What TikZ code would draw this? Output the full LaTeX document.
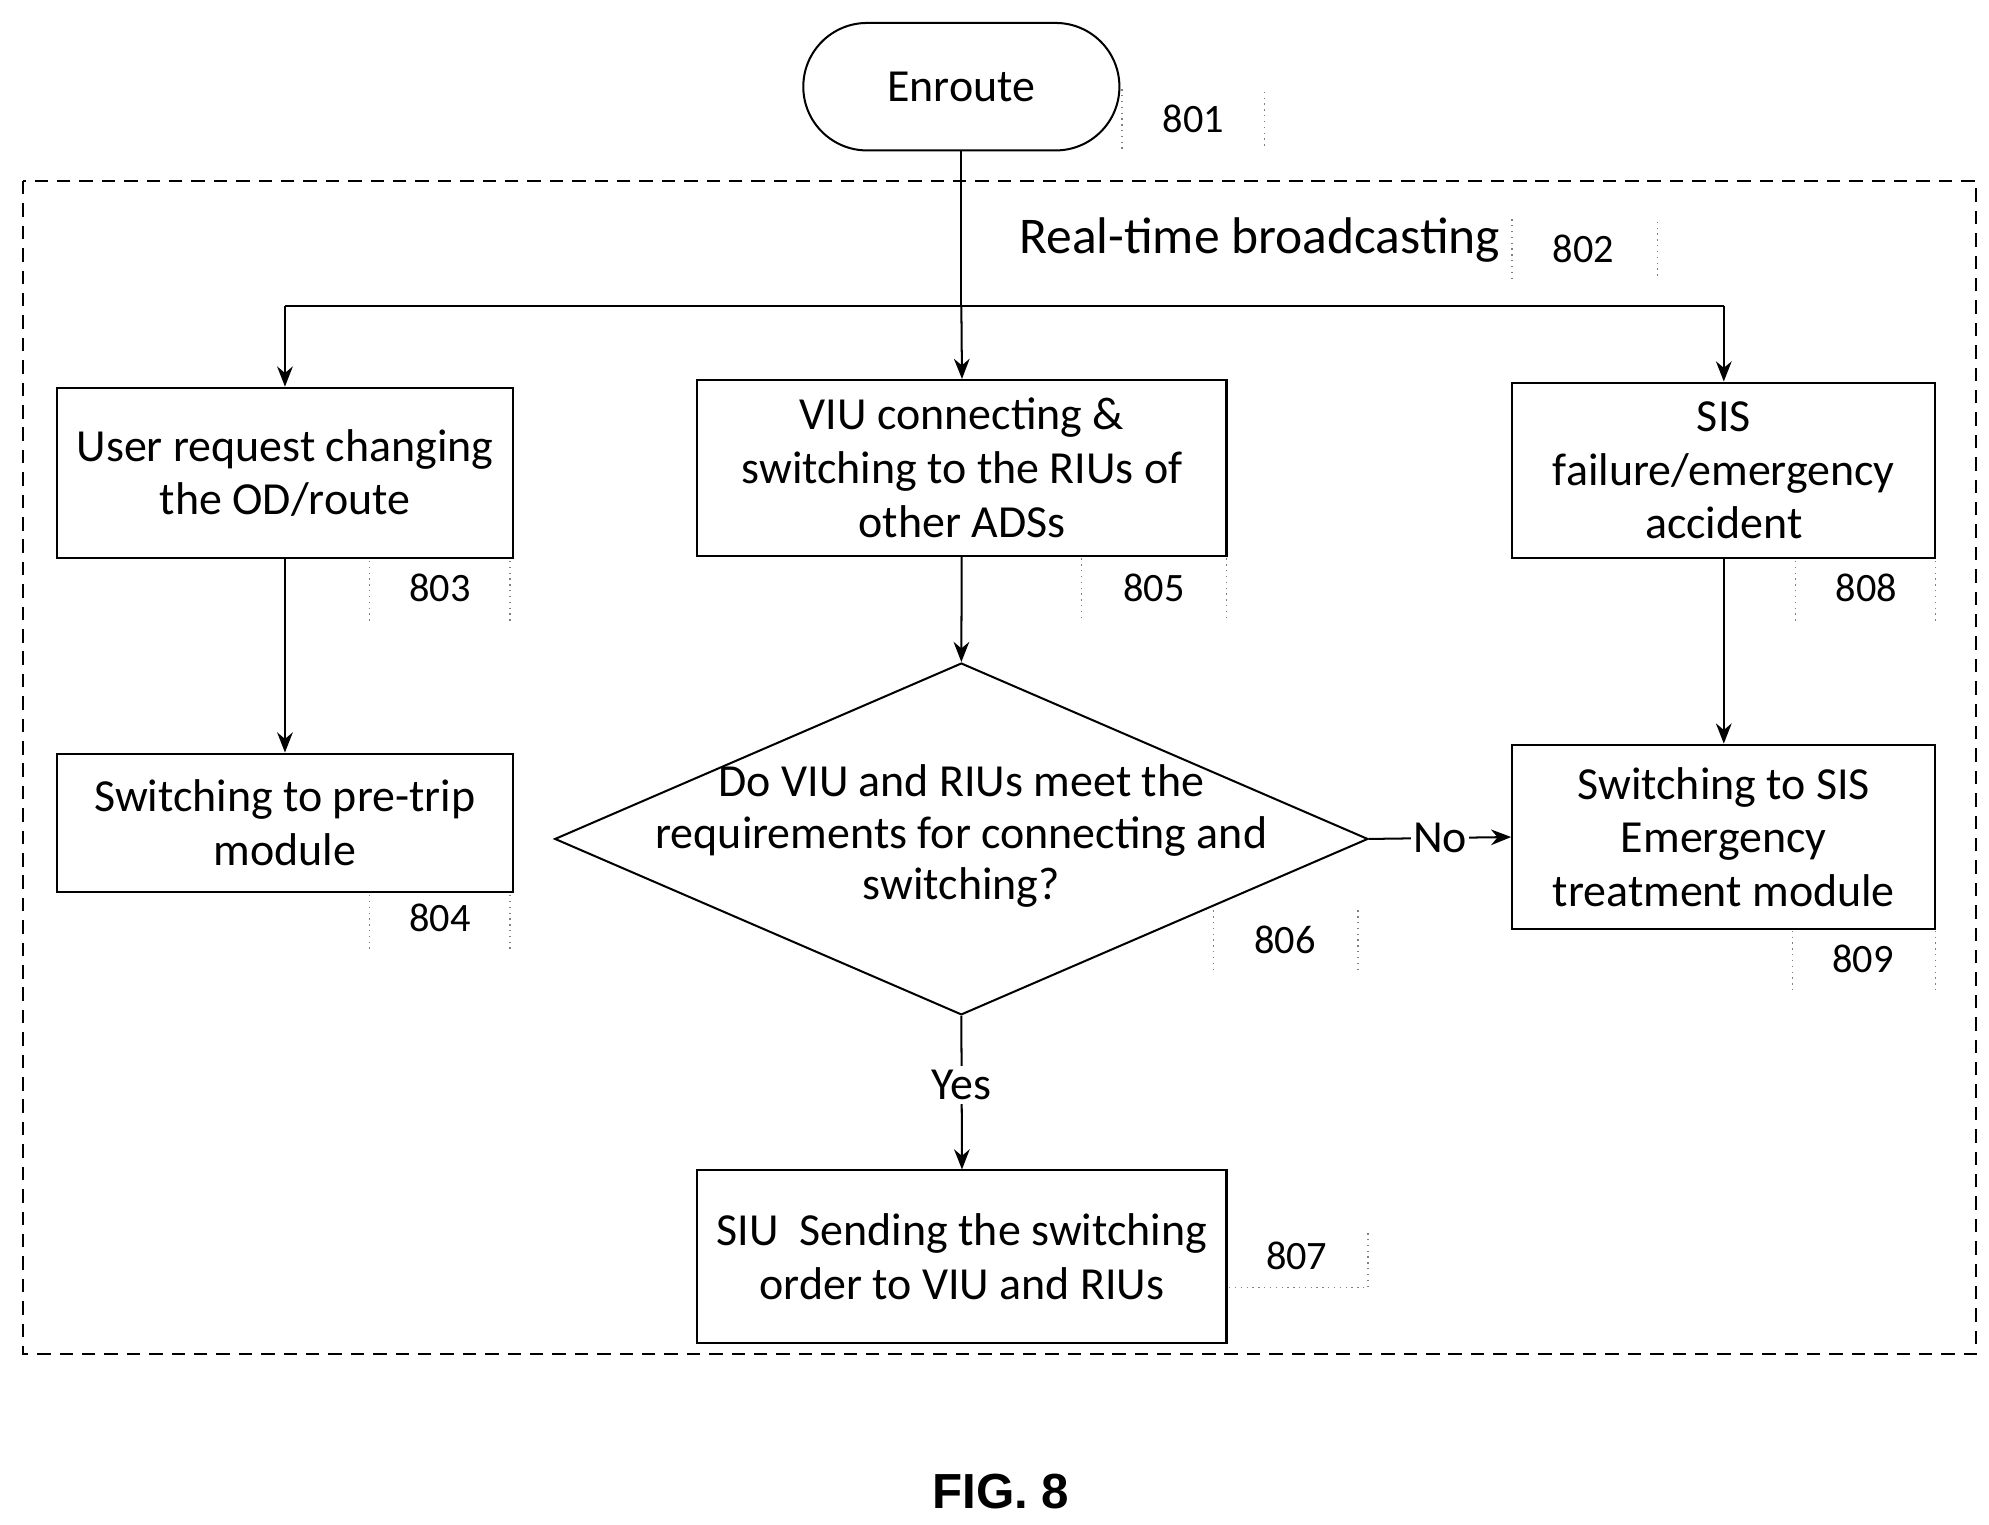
\documentclass[tikz,border=0pt]{standalone}
\usepackage{fontspec}
\setmainfont{Carlito}
\newfontfamily\arialf{Liberation Sans}
\usetikzlibrary{shapes.geometric,arrows.meta}
\begin{document}
\begin{tikzpicture}[x=0.02cm,y=-0.02cm,
  txt/.style={font=\fontsize{20.5}{24}\selectfont},
  box/.style={draw,line width=0.9pt,align=center,txt,inner sep=0pt},
  arr/.style={line width=0.9pt,-{Stealth[length=9pt,width=7pt]}},
  num/.style={font=\fontsize{18}{20}\selectfont},
  brk/.style={dotted,line width=0.6pt,gray}]
\useasboundingbox (0,0) rectangle (1560,1196);
\node[draw,line width=0.9pt,rounded corners=1cm,minimum width=4.96cm,minimum height=2cm,txt] (en) at (754,68) {Enroute};
\draw[dashed,line width=0.7pt,dash pattern=on 6pt off 4pt] (18,142) rectangle (1550,1062);
\node[font=\fontsize{23}{27}\selectfont] (rt) at (988,188) {Real-time broadcasting};
\node[box,minimum width=7.14cm,minimum height=2.68cm] (b803) at (223.5,371) {User request changing\\the OD/route};
\node[box,minimum width=8.3cm,minimum height=2.76cm] (b805) at (754.5,367) {VIU connecting \&\\switching to the RIUs of\\other ADSs};
\node[box,minimum width=6.64cm,minimum height=2.76cm] (b808) at (1352,369) {SIS\\failure/emergency\\accident};
\node[box,minimum width=7.14cm,minimum height=2.18cm] (b804) at (223.5,645.5) {Switching to pre-trip\\module};
\node[draw,line width=0.9pt,diamond,aspect=2.31,minimum width=12.76cm,minimum height=5.52cm,inner sep=0pt] (d806) at (754,658) {};
\node[align=center,txt,font=\fontsize{20.5}{23}\selectfont] at (754,656) {Do VIU and RIUs meet the\\requirements for connecting and\\switching?};
\node[box,minimum width=6.64cm,minimum height=2.9cm] (b809) at (1352,656.5) {Switching to SIS\\Emergency\\treatment module};
\node[box,minimum width=8.3cm,minimum height=2.7cm] (b807) at (754.5,985.5) {SIU\ \ Sending the switching\\order to VIU and RIUs};
\coordinate (j1) at (754,240);
\coordinate (jl) at (223.5,240);
\coordinate (jr) at (1352,240);
\draw[line width=0.9pt] (en.south) -- (j1);
\draw[line width=0.9pt] (jl) -- (jr);
\draw[arr] (j1) -- (b805.north);
\draw[arr] (jl) -- (b803.north);
\draw[arr] (jr) -- (b808.north);
\draw[arr] (b803) -- (b804);
\draw[arr] (b805) -- (d806.north);
\draw[arr] (b808) -- (b809);
\draw[arr] (d806.east) -- node[fill=white,inner sep=1pt,txt]{No} (b809.west);
\draw[arr] (d806.south) -- node[fill=white,inner sep=2pt,txt,pos=0.45]{Yes} (b807.north);
% reference numbers
\node[num] (n801) at (936,93) {801};
\draw[brk] (880,70) -- (880,118) (992,72) -- (992,116);
\node[num] (n802) at (1242,195) {802};
\draw[brk] (1186,172) -- (1186,218) (1300,174) -- (1300,218);
\node[num] (n803) at (345,461) {803};
\draw[brk] (290,440) -- (290,488) (400,440) -- (400,488);
\node[num] (n805) at (905,461) {805};
\draw[brk] (848,438) -- (848,488) (962,438) -- (962,488);
\node[num] (n808) at (1464,461) {808};
\draw[brk] (1408,440) -- (1408,488) (1518,440) -- (1518,488);
\node[num] (n804) at (345,720) {804};
\draw[brk] (290,702) -- (290,746) (400,702) -- (400,746);
\node[num] (n806) at (1008,737) {806};
\draw[brk] (952,714) -- (952,764) (1065,714) -- (1065,764);
\node[num] (n809) at (1461,752) {809};
\draw[brk] (1406,730) -- (1406,778) (1518,730) -- (1518,778);
\node[num] (n807) at (1017,985) {807};
\draw[brk] (964,1010) -- (1073,1010) -- (1073,964);
\node[font=\arialf\bfseries\fontsize{22}{26}\selectfont] (fig) at (785,1170) {FIG. 8};
\end{tikzpicture}
\end{document}
